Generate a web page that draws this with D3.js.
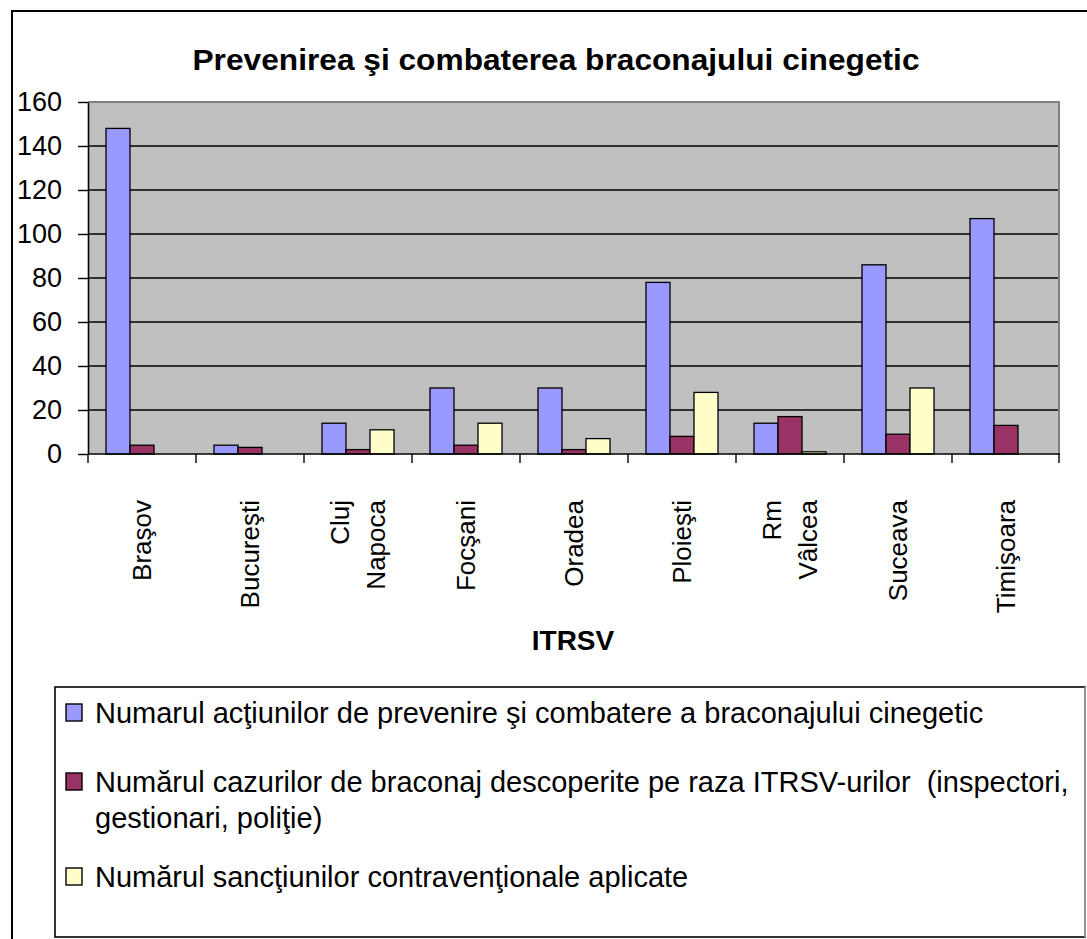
<!DOCTYPE html>
<html>
<head>
<meta charset="utf-8">
<script src="https://cdn.jsdelivr.net/npm/d3@7"></script>
<style>
  body { margin: 0; background: #fff; }
  text { font-family: 'Liberation Sans', Arial, sans-serif; }
</style>
</head>
<body>
<div id="chart"></div>
<script>
const categories = ['Braşov', 'Bucureşti', 'Cluj Napoca', 'Focşani', 'Oradea', 'Ploieşti', 'Rm Vâlcea', 'Suceava', 'Timişoara']
const actiuni = [148, 4, 14, 30, 30, 78, 14, 86, 107]
const cazuri = [4, 3, 2, 4, 2, 8, 17, 9, 13]
const sanctiuni = [0, 0, 11, 14, 7, 28, 1, 30, 0]
const seriesNames = [
  'Numarul acţiunilor de prevenire şi combatere a braconajului cinegetic',
  'Numărul cazurilor de braconaj descoperite pe raza ITRSV-urilor  (inspectori, gestionari, poliţie)',
  'Numărul sancţiunilor contravenţionale aplicate'
]
const yTicks = [0, 20, 40, 60, 80, 100, 120, 140, 160]
const title = 'Prevenirea şi combaterea braconajului cinegetic'
const xTitle = 'ITRSV'

const colors = ['#9999FF', '#993366', '#FFFFCC']
const seriesValues = [actiuni, cazuri, sanctiuni]

const width = 1087
const height = 939
const plot = { left: 88, right: 1060, top: 102, bottom: 454 }

const svg = d3
  .select('#chart')
  .append('svg')
  .attr('width', width)
  .attr('height', height)

// outer frame (cut off at right / bottom)
svg.append('path')
  .attr('d', 'M12,' + height + ' V11 H' + width)
  .attr('fill', 'none')
  .attr('stroke', '#000')
  .attr('stroke-width', 2)

svg.append('text')
  .text(title)
  .attr('x', 556)
  .attr('y', 70)
  .attr('text-anchor', 'middle')
  .attr('font-size', 30)
  .attr('font-weight', 'bold')
  .attr('textLength', 727)
  .attr('lengthAdjust', 'spacingAndGlyphs')

const x0 = d3.scaleBand().domain(categories).range([plot.left, plot.right])
const x1 = d3.scaleBand().domain([0, 1, 2]).range([0, x0.bandwidth()]).paddingOuter(0.75)
const y = d3.scaleLinear().domain([0, 160]).range([plot.bottom, plot.top])

// plot background
svg.append('rect')
  .attr('x', plot.left)
  .attr('y', y(160))
  .attr('width', plot.right - plot.left)
  .attr('height', y(0) - y(160))
  .attr('fill', '#C0C0C0')

svg.append('path')
  .attr('d', 'M' + plot.left + ',' + y(160) + ' H' + (plot.right - 1) + ' V' + y(0))
  .attr('fill', 'none')
  .attr('stroke', '#808080')
  .attr('stroke-width', 2)

// gridlines
svg.selectAll('.grid')
  .data(yTicks.filter(d => d > 0 && d < 160))
  .enter()
  .append('line')
  .attr('x1', plot.left)
  .attr('x2', plot.right - 2)
  .attr('y1', d => y(d))
  .attr('y2', d => y(d))
  .attr('stroke', '#000')
  .attr('stroke-width', 1.4)

// bars
const groups = svg.selectAll('.group')
  .data(categories)
  .enter()
  .append('g')
  .attr('transform', d => 'translate(' + x0(d) + ',0)')

groups.each(function(cat, i) {
  const vals = seriesValues.map((s, k) => ({ k: k, v: s[i] })).filter(d => d.v > 0)
  d3.select(this)
    .selectAll('rect')
    .data(vals)
    .enter()
    .append('rect')
    .attr('x', d => x1(d.k))
    .attr('y', d => y(d.v))
    .attr('width', x1.bandwidth())
    .attr('height', d => y(0) - y(d.v))
    .attr('fill', d => colors[d.k])
    .attr('stroke', '#000')
    .attr('stroke-width', 1.3)
})

// y axis
const yAxis = d3.axisLeft(y).tickValues(yTicks).tickSize(10).tickSizeOuter(0).tickPadding(16)
const yg = svg.append('g')
  .attr('transform', 'translate(' + plot.left + ',0)')
  .call(yAxis)
yg.select('.domain').attr('stroke', '#000').attr('stroke-width', 1.6)
yg.selectAll('.tick line').attr('stroke', '#000').attr('stroke-width', 1.4)
yg.selectAll('.tick text')
  .attr('font-size', 27)
  .attr('fill', '#000')
  .attr('font-family', "'Liberation Sans', Arial, sans-serif")

// x axis baseline and separators
svg.append('line')
  .attr('x1', plot.left)
  .attr('x2', plot.right)
  .attr('y1', y(0))
  .attr('y2', y(0))
  .attr('stroke', '#000')
  .attr('stroke-width', 1.6)

svg.selectAll('.xtick')
  .data(categories.map(d => x0(d)).concat([plot.right - 1]))
  .enter()
  .append('line')
  .attr('x1', d => d)
  .attr('x2', d => d)
  .attr('y1', y(0))
  .attr('y2', y(0) + 9)
  .attr('stroke', '#000')
  .attr('stroke-width', 1.4)

// category labels, rotated
categories.forEach(function(cat) {
  const lines = cat.split(' ')
  const cx = x0(cat) + x0.bandwidth() / 2
  const gap = 36
  lines.forEach(function(line, j) {
    const dx = (j - (lines.length - 1) / 2) * gap
    svg.append('text')
      .text(line)
      .attr('transform', 'translate(' + (cx + dx) + ',500) rotate(-90)')
      .attr('text-anchor', 'end')
      .attr('dy', '0.36em')
      .attr('font-size', 26)
  })
})

svg.append('text')
  .text(xTitle)
  .attr('x', 573)
  .attr('y', 650)
  .attr('text-anchor', 'middle')
  .attr('font-size', 28)
  .attr('font-weight', 'bold')

// legend
svg.append('rect')
  .attr('x', 55)
  .attr('y', 687)
  .attr('width', 1030)
  .attr('height', 250)
  .attr('fill', '#fff')
  .attr('stroke', '#000')
  .attr('stroke-width', 1.6)
svg.append('line')
  .attr('x1', 1085).attr('x2', 1085)
  .attr('y1', 687).attr('y2', 937)
  .attr('stroke', '#aaa').attr('stroke-width', 1.6)

const legendRows = [713, 782, 877]
const lineHeight = 36
const maxTextWidth = 1000

seriesNames.forEach(function(name, k) {
  const yc = legendRows[k]
  svg.append('rect')
    .attr('x', 66)
    .attr('y', yc - 9)
    .attr('width', 16)
    .attr('height', 17)
    .attr('fill', colors[k])
    .attr('stroke', '#000')
    .attr('stroke-width', 1.4)

  // wrap the label by measuring
  const words = name.split(' ')
  const text = svg.append('text')
    .attr('x', 95)
    .attr('y', yc)
    .attr('font-size', 29)
    .style('white-space', 'pre')
  let current = []
  let tspan = text.append('tspan').attr('x', 95).attr('dy', '0.36em')
  words.forEach(function(w) {
    current.push(w)
    tspan.text(current.join(' '))
    if (tspan.node().getComputedTextLength() > maxTextWidth && current.length > 1) {
      current.pop()
      tspan.text(current.join(' '))
      current = [w]
      tspan = text.append('tspan').attr('x', 95).attr('dy', lineHeight).text(w)
    }
  })
})
</script>
</body>
</html>
